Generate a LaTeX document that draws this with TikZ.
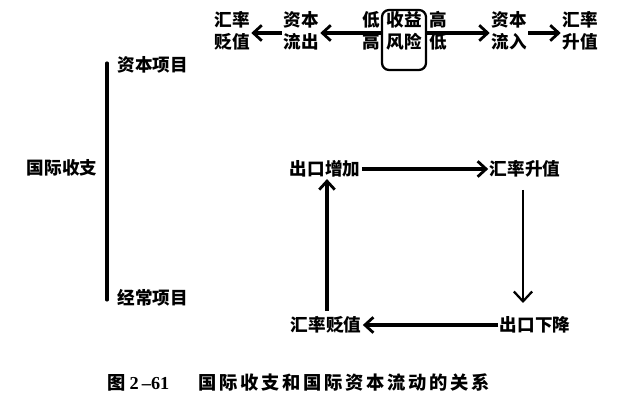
\documentclass[tikz,border=0pt]{standalone}
\usepackage{fontspec}
\setmainfont{Noto Sans CJK SC}
\newfontfamily\numfont{Liberation Serif}
\usetikzlibrary{arrows.meta, positioning}

\begin{document}
\begin{tikzpicture}[x=0.025cm, y=-0.025cm,
    label/.style={font=\fontsize{12.5}{15.5}\selectfont\bfseries, align=center, inner sep=1pt},
    arr/.style={line width=2.2pt, -{Straight Barb[length=6pt, width=11pt, line width=2pt]}},
    thinarr/.style={line width=1.4pt, -{Straight Barb[length=7pt, width=13pt, line width=1.6pt]}},
    riskbox/.style={draw, line width=1.6pt, rounded corners=5pt, minimum width=44*0.025cm, minimum height=60*0.025cm}]
  \useasboundingbox (0,0) rectangle (642,398);

  % Capital account chain
  \node[label] (devtop) at (232,31) {汇率\\贬值};
  \node[label] (outflow) at (301,31) {资本\\流出};
  \node[riskbox] (box) at (404,40) {};
  \node[label] (yield) at (404,31) {收益\\风险};
  \node[label] (lowhigh) at (371,31) {低\\高};
  \node[label] (highlow) at (438,31) {高\\低};
  \node[label] (inflow) at (509,31) {资本\\流入};
  \node[label] (apptop) at (580,31) {汇率\\升值};

  \draw[arr] (box.west |- 0,33) -- (outflow.east |- 0,33);
  \draw[arr] (box.east |- 0,33) -- (inflow.west |- 0,33);
  \draw[arr] (outflow.west |- 0,33) -- (devtop.east |- 0,33);
  \draw[arr] (inflow.east |- 0,33) -- (apptop.west |- 0,33);

  % Balance of payments
  \node[label] (bop) at (62,168) {国际收支};
  \coordinate (bartop) at (107,63);
  \coordinate (barbot) at (107,300);
  \draw[line width=2.2pt, line cap=round] (bartop) -- (barbot);
  \node[label, anchor=west] (capital) at (116,65) {资本项目};
  \node[label, anchor=west] (current) at (116,298) {经常项目};

  % Current account cycle
  \node[label] (expup) at (325,169) {出口增加};
  \node[label] (appr) at (525,169) {汇率升值};
  \node[label] (expdown) at (535,325) {出口下降};
  \node[label] (depr) at (326,325) {汇率贬值};

  \draw[arr] (expup.east) -- (appr.west);
  \draw[thinarr] (523,190) -- (523,303);
  \draw[arr] (expdown.west) -- (depr.east);
  \draw[arr] (327,311) -- (expup.south -| 327,0);

  % Caption
  \node[font=\fontsize{13}{15}\selectfont\bfseries, anchor=west, inner sep=0pt] (caption) at (107,383)
    {图 {\numfont 2\,–61}\hspace{1.6em}{\addfontfeature{LetterSpace=15}国际收支和国际资本流动的关系}};
\end{tikzpicture}
\end{document}
